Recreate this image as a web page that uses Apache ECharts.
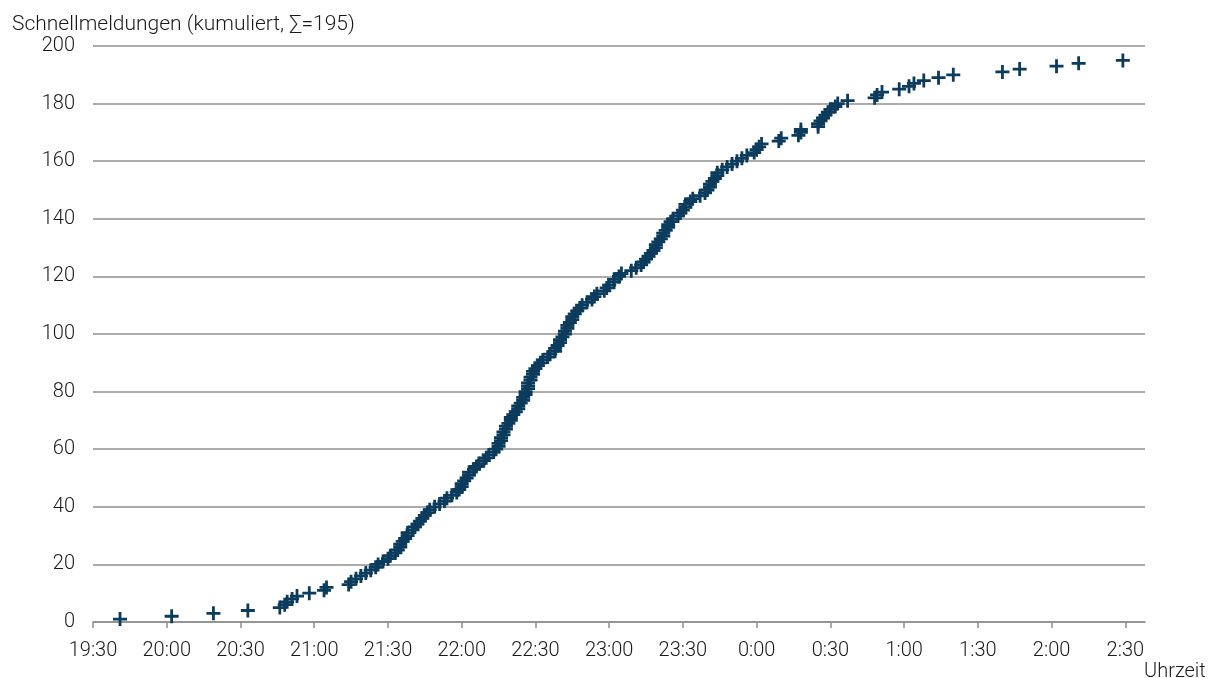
<!DOCTYPE html>
<html>
<head>
<meta charset="utf-8">
<script src="https://cdn.jsdelivr.net/npm/echarts@6/dist/echarts.min.js"></script>
<style>
html,body{margin:0;padding:0;background:#fff;}
#chart{width:1216px;height:678px;}
</style>
</head>
<body>
<div id="chart"></div>
<script>
// Time of each report (cumulative count = position in list)
const reportTimes = [
"19:41","20:02","20:19","20:33","20:46","20:48","20:49","20:51","20:53","20:58",
"21:04","21:05","21:14","21:15","21:17","21:19","21:21","21:23","21:25","21:26",
"21:28","21:30","21:31","21:33","21:34","21:35","21:35","21:36","21:37","21:38",
"21:38","21:40","21:41","21:42","21:43","21:44","21:45","21:46","21:47","21:49",
"21:51","21:53","21:54","21:56","21:58","21:59","22:00","22:00","22:01","22:02",
"22:03","22:03","22:05","22:06","22:07","22:09","22:10","22:11","22:13","22:14",
"22:15","22:15","22:16","22:16","22:17","22:17","22:18","22:18","22:19","22:20",
"22:20","22:21","22:22","22:23","22:23","22:24","22:25","22:25","22:26","22:26",
"22:27","22:27","22:27","22:28","22:28","22:29","22:29","22:30","22:31","22:32",
"22:33","22:35","22:36","22:38","22:38","22:39","22:40","22:40","22:41","22:42",
"22:42","22:43","22:43","22:44","22:45","22:45","22:46","22:47","22:48","22:49",
"22:51","22:53","22:54","22:55","22:58","22:59","23:00","23:02","23:02","23:04",
"23:05","23:09","23:11","23:13","23:14","23:15","23:16","23:17","23:18","23:19",
"23:19","23:20","23:21","23:22","23:22","23:23","23:24","23:24","23:25","23:26",
"23:28","23:29","23:30","23:31","23:31","23:33","23:34","23:37","23:39","23:40",
"23:41","23:41","23:42","23:43","23:44","23:44","23:46","23:48","23:50","23:52",
"23:54","23:56","23:59","0:00","0:01","0:02","0:09","0:10","0:17","0:18",
"0:18","0:25","0:25","0:26","0:27","0:28","0:29","0:30","0:32","0:33",
"0:37","0:48","0:49","0:51","0:58","1:02","1:04","1:08","1:14","1:20",
"1:40","1:47","2:02","2:11","2:29"
];
const xTickStart = "19:30";
const xTickLabels = ["19:30","20:00","20:30","21:00","21:30","22:00","22:30","23:00","23:30","0:00","0:30","1:00","1:30","2:00","2:30"];
const yTicks = [0,20,40,60,80,100,120,140,160,180,200];
const titleText = "Schnellmeldungen (kumuliert, \u2211=195)";
const xAxisTitle = "Uhrzeit";

function toMinutes(t){
  const [h,m] = t.split(":").map(Number);
  let total = h*60+m;
  const [sh,sm] = xTickStart.split(":").map(Number);
  const start = sh*60+sm;
  if (total < start) total += 24*60;
  return total - start;
}
function fmt(v){
  const [sh,sm] = xTickStart.split(":").map(Number);
  const total = sh*60+sm+v;
  const h = Math.floor(total/60)%24;
  const m = total%60;
  return h + ":" + String(m).padStart(2,"0");
}
const points = reportTimes.map((t,i)=>[toMinutes(t), i+1]);

const FONT = "Roboto";
const chart = echarts.init(document.getElementById('chart'));
chart.setOption({
  animation:false,
  backgroundColor:'#fff',
  title:[
    {text:titleText,left:7,top:9,textStyle:{fontFamily:FONT,fontWeight:300,fontSize:21,color:'#1a1a1a'}},
    {text:xAxisTitle,left:1139,top:657,textStyle:{fontFamily:FONT,fontWeight:300,fontSize:20,color:'#1a1a1a'}}
  ],
  grid:{left:93,right:71,top:46,bottom:56,containLabel:false},
  xAxis:{
    type:'value',min:0,max:428,interval:30,
    axisLine:{show:true,lineStyle:{color:'#8f8f8f',width:1.5}},
    axisTick:{show:true,inside:false,length:6,lineStyle:{color:'#8f8f8f',width:1.5},
      customValues: xTickLabels.map(toMinutes)},
    axisLabel:{show:true,margin:19,fontFamily:FONT,fontWeight:300,fontSize:20,color:'#1a1a1a',
      customValues: xTickLabels.map(toMinutes),
      formatter:(v)=>fmt(v)},
    splitLine:{show:false}
  },
  yAxis:{
    type:'value',min:yTicks[0],max:yTicks[yTicks.length-1],interval:20,
    axisLine:{show:false},axisTick:{show:false},
    axisLabel:{margin:18,fontFamily:FONT,fontWeight:300,fontSize:20,color:'#1a1a1a'},
    splitLine:{show:true,lineStyle:{color:'#8f8f8f',width:1.5}}
  },
  series:[{
    type:'scatter',
    data:points,
    symbol:'path://M4.8,0H7.2V4.8H12V7.2H7.2V12H4.8V7.2H0V4.8H4.8Z',
    symbolSize:14,
    itemStyle:{color:'#0b3c5d',opacity:1},
    emphasis:{disabled:true}
  }]
});
</script>
</body>
</html>
